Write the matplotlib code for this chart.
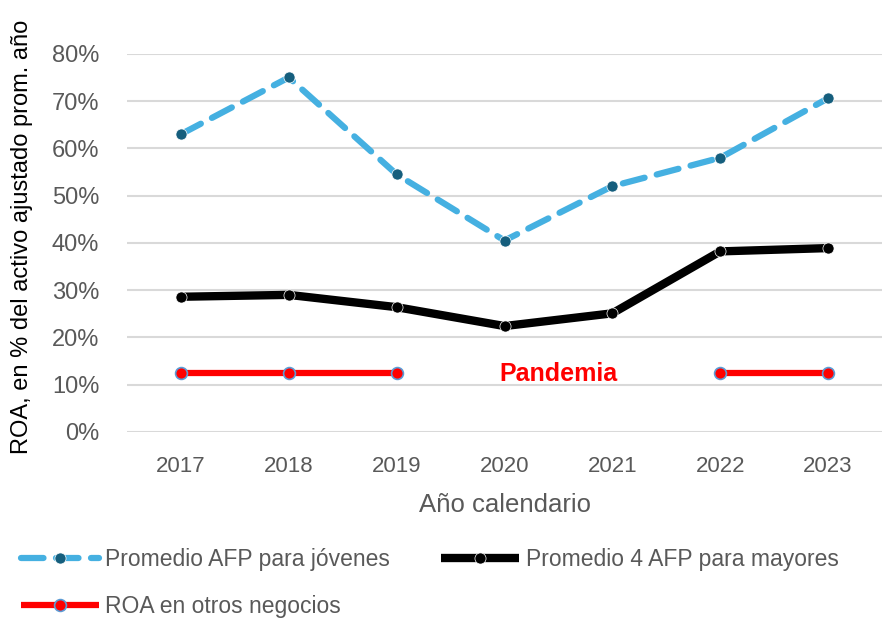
import numpy as np
import matplotlib.pyplot as plt
from matplotlib.ticker import PercentFormatter

# ------------------------------------------------------------
# Data
# ------------------------------------------------------------
years = [2017, 2018, 2019, 2020, 2021, 2022, 2023]
afp_jovenes = [63.0, 75.0, 54.5, 40.5, 52.0, 58.0, 70.6]
afp_mayores = [28.6, 29.0, 26.4, 22.4, 25.1, 38.2, 38.9]
roa_otros = [12.5, 12.5, 12.5, np.nan, np.nan, 12.5, 12.5]
y_ticks = [0, 10, 20, 30, 40, 50, 60, 70, 80]

plt.rcParams['font.family'] = ['Liberation Sans', 'DejaVu Sans']

fig = plt.figure(figsize=(8.82, 6.26), dpi=100)
ax = fig.add_axes([0.144, 0.310, 0.856, 0.604])

# gridlines
ax.set_yticks(y_ticks)
ax.yaxis.grid(True, color='#d9d9d9', linewidth=1.5)
ax.set_axisbelow(True)

# series
l1, = ax.plot(years, afp_jovenes, color='#45b0e1', linewidth=4.5, dashes=(3.6, 2.0),
              dash_capstyle='round', marker='o', markersize=8,
              markerfacecolor='#155e7d', markeredgecolor='white', markeredgewidth=0.5,
              label='Promedio AFP para jóvenes', clip_on=False, zorder=3)
l2, = ax.plot(years, afp_mayores, color='black', linewidth=6, solid_capstyle='butt',
              marker='o', markersize=8, markerfacecolor='black',
              markeredgecolor='white', markeredgewidth=0.5,
              label='Promedio 4 AFP para mayores', clip_on=False, zorder=3)
l3, = ax.plot(years, roa_otros, color='#ff0000', linewidth=4.5, solid_capstyle='butt',
              marker='o', markersize=8.5, markerfacecolor='#ff0000',
              markeredgecolor='#5b9bd5', markeredgewidth=1.2,
              label='ROA en otros negocios', clip_on=False, zorder=3)

ax.text(2020.5, 12.3, 'Pandemia', color='#ff0000', fontsize=18, fontweight='bold',
        ha='center', va='center')

ax.set_xlim(2016.5, 2023.5)
ax.set_ylim(0, 80)
ax.set_xticks(years)
ax.yaxis.set_major_formatter(PercentFormatter(decimals=0))

for side in ['top', 'right', 'left', 'bottom']:
    ax.spines[side].set_visible(False)
ax.tick_params(axis='both', length=0, colors='#595959')
ax.tick_params(axis='x', pad=17, labelsize=16)
ax.tick_params(axis='y', pad=20, labelsize=17)

ax.set_xlabel('Año calendario', fontsize=18.5, color='#595959', labelpad=12)
ax.set_ylabel('ROA, en % del activo ajustado prom. año', fontsize=17,
              color='#000000')
ax.yaxis.set_label_coords(-0.125, 0.515)

# legend: row 1 -> jóvenes, mayores; row 2 -> ROA
leg = fig.legend(handles=[l1, l3, l2], loc='lower left', bbox_to_anchor=(0.0, -0.02),
                 ncol=2, frameon=False, fontsize=16.5, handlelength=3.4,
                 handletextpad=0.3, columnspacing=2.2, labelspacing=1.05)
for t in leg.get_texts():
    t.set_color('#595959')

plt.savefig('out.png', dpi=100)
